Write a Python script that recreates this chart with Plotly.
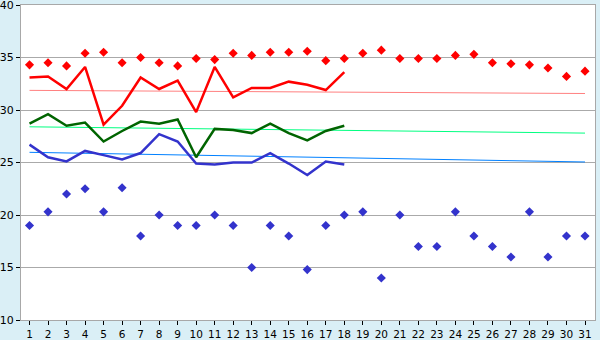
import plotly.graph_objects as go

days = list(range(1, 32))
rec_max = [34.3, 34.5, 34.2, 35.4, 35.5, 34.5, 35.0, 34.5, 34.2, 34.9, 34.8, 35.4, 35.2, 35.5, 35.5,
           35.6, 34.7, 34.9, 35.4, 35.7, 34.9, 34.9, 34.9, 35.2, 35.3, 34.5, 34.4, 34.3, 34.0, 33.2, 33.7]
rec_min = [19.0, 20.3, 22.0, 22.5, 20.3, 22.6, 18.0, 20.0, 19.0, 19.0, 20.0, 19.0, 15.0, 19.0, 18.0,
           14.8, 19.0, 20.0, 20.3, 14.0, 20.0, 17.0, 17.0, 20.3, 18.0, 17.0, 16.0, 20.3, 16.0, 18.0, 18.0]
obs_days = list(range(1, 19))
t_max = [33.1, 33.2, 32.0, 34.1, 28.6, 30.4, 33.1, 32.0, 32.8, 29.8, 34.1, 31.2, 32.1, 32.1, 32.7, 32.4, 31.9, 33.6]
t_avg = [28.7, 29.6, 28.5, 28.8, 27.0, 28.0, 28.9, 28.7, 29.1, 25.5, 28.2, 28.1, 27.8, 28.7, 27.8, 27.1, 28.0, 28.5]
t_min = [26.7, 25.5, 25.1, 26.1, 25.7, 25.3, 25.9, 27.7, 27.0, 24.9, 24.8, 25.0, 25.0, 25.9, 24.9, 23.8, 25.1, 24.8]
norm_days = [1, 31]
norm_max = [31.87, 31.57]
norm_avg = [28.4, 27.8]
norm_min = [25.97, 25.05]
y_ticks = [10, 15, 20, 25, 30, 35, 40]

fig = go.Figure()
fig.add_trace(go.Scatter(x=norm_days, y=norm_max, mode="lines", line=dict(color="#ff8080", width=1)))
fig.add_trace(go.Scatter(x=norm_days, y=norm_avg, mode="lines", line=dict(color="#00ff80", width=1)))
fig.add_trace(go.Scatter(x=norm_days, y=norm_min, mode="lines", line=dict(color="#0080ff", width=1)))
fig.add_trace(go.Scatter(x=obs_days, y=t_max, mode="lines", line=dict(color="#ff0000", width=2.5)))
fig.add_trace(go.Scatter(x=obs_days, y=t_avg, mode="lines", line=dict(color="#006400", width=2.5)))
fig.add_trace(go.Scatter(x=obs_days, y=t_min, mode="lines", line=dict(color="#3333cc", width=2.5)))
fig.add_trace(go.Scatter(x=days, y=rec_max, mode="markers",
                         marker=dict(symbol="diamond", size=7, color="#ff0000")))
fig.add_trace(go.Scatter(x=days, y=rec_min, mode="markers",
                         marker=dict(symbol="diamond", size=7, color="#3333cc")))

fig.update_layout(
    width=600, height=340,
    margin=dict(l=21, r=5, t=5, b=20),
    paper_bgcolor="#daeff6",
    plot_bgcolor="#ffffff",
    showlegend=False,
    font=dict(family="DejaVu Sans", size=11, color="#000000"),
)
fig.update_xaxes(range=[0.54, 31.54], tickmode="array", tickvals=days, ticktext=[str(d) for d in days],
                 showgrid=False, zeroline=False, showline=True, linecolor="#a8a8a8", linewidth=1,
                 mirror=True, ticks="outside", ticklen=4, tickcolor="#000000", automargin=False,
                 ticklabeloverflow="allow", tickfont=dict(size=10.5))
fig.update_yaxes(range=[10, 40], tickmode="array", tickvals=y_ticks,
                 showgrid=True, gridcolor="#aaaaaa", gridwidth=1, zeroline=False,
                 showline=True, linecolor="#a8a8a8", linewidth=1, mirror=True,
                 ticks="outside", ticklen=4, tickcolor="#000000", automargin=False,
                 ticklabeloverflow="allow")

fig.write_html("out.html")
